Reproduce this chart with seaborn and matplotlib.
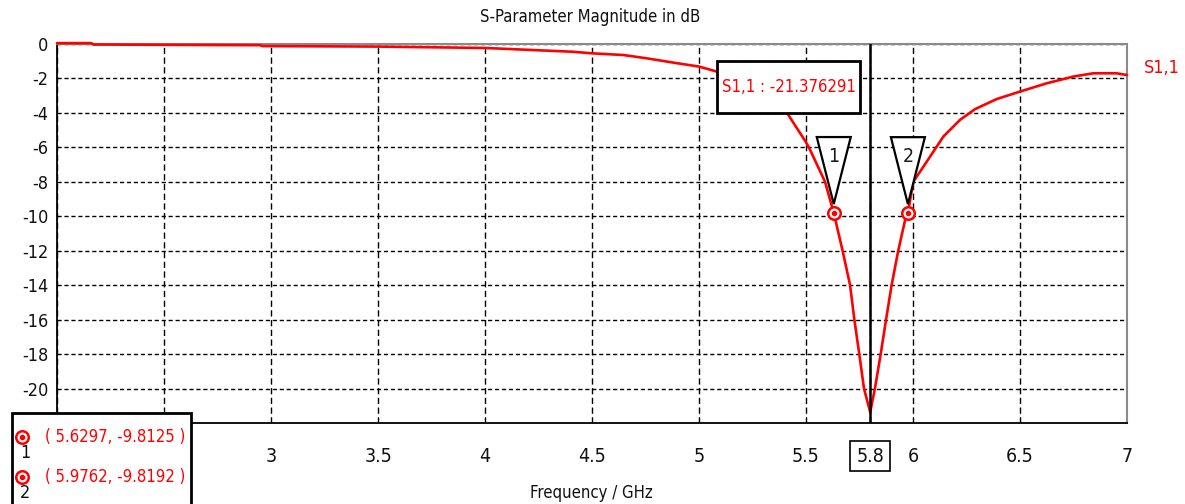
import numpy as np
import pandas as pd
import seaborn as sns
import matplotlib
matplotlib.use("Agg")
import matplotlib.pyplot as plt
import matplotlib.patches as mpatches
import matplotlib.transforms as mtransforms

# S11 trace (GHz, dB)
freq = [2.0, 2.16, 2.17, 2.5, 2.95, 2.96, 3.5, 4.0, 4.41, 4.5, 4.647, 4.755,
        4.88, 5.0, 5.083, 5.2, 5.3, 5.36, 5.417, 5.5, 5.519, 5.589, 5.6297,
        5.671, 5.706, 5.726, 5.749, 5.771, 5.8, 5.822, 5.849, 5.874, 5.9,
        5.931, 5.967, 5.9762, 6.001, 6.07, 6.142, 6.22, 6.29, 6.39, 6.5,
        6.625, 6.749, 6.842, 6.95, 7.0]
s11 = [0.05, 0.05, -0.03, -0.05, -0.07, -0.12, -0.15, -0.23, -0.45, -0.54,
       -0.64, -0.83, -1.08, -1.31, -1.6, -2.2, -2.9, -3.4, -4.11, -5.7, -6.14,
       -8.0, -9.8125, -12.0, -14.0, -16.0, -18.0, -20.0, -21.376291, -20.0,
       -18.0, -16.0, -14.0, -12.0, -10.0, -9.8192, -8.0, -6.72, -5.37, -4.4,
       -3.78, -3.2, -2.76, -2.28, -1.89, -1.7, -1.7, -1.8]

# markers
marker_ids = ["1", "2"]
marker_x = [5.6297, 5.9762]
marker_y = [-9.8125, -9.8192]

# cursor
cursor_x = 5.8
cursor_val = -21.376291

xticks = [2, 2.5, 3, 3.5, 4, 4.5, 5, 5.5, 5.8, 6, 6.5, 7]
xticklabels = ["2", "2.5", "3", "3.5", "4", "4.5", "5", "5.5", "5.8", "6", "6.5", "7"]
yticks = [0, -2, -4, -6, -8, -10, -12, -14, -16, -18, -20]
yticklabels = ["0", "-2", "-4", "-6", "-8", "-10", "-12", "-14", "-16", "-18", "-20"]

sns.set_style("white")
plt.rcParams["font.family"] = ["DejaVu Sans"]
plt.rcParams["font.stretch"] = "condensed"

INK = "#111111"
RED = "#ff0000"
W, H = 1185, 504
fig = plt.figure(figsize=(W / 100, H / 100), dpi=100)
ax = fig.add_axes([57 / W, 1 - 423 / H, (1127 - 57) / W, (423 - 44) / H])

df = pd.DataFrame({"Frequency": freq, "S11": s11})
sns.lineplot(data=df, x="Frequency", y="S11", color=RED, lw=1.9, ax=ax,
             zorder=4, clip_on=False)

ax.set_xlim(2, 7)
ax.set_ylim(-22, 0)
ax.set_xticks(xticks)
ax.set_xticklabels(xticklabels)
ax.set_yticks(yticks)
ax.set_yticklabels(yticklabels)
ax.set_xlabel("")
ax.set_ylabel("")

ax.xaxis.grid(True, color="black", linestyle=(0, (4.5, 2.5)), lw=1.0)
ax.yaxis.grid(True, color="black", linestyle=(0, (3, 2)), lw=1.0)
ax.tick_params(axis="x", direction="out", length=5, width=1, color="black",
               pad=12, labelsize=14, labelcolor=INK)
ax.tick_params(axis="y", direction="out", length=4, width=1, color="black",
               pad=2, labelsize=13, labelcolor=INK)

for side in ["left", "bottom"]:
    ax.spines[side].set_color("black")
    ax.spines[side].set_linewidth(1.3)
for side in ["top", "right"]:
    ax.spines[side].set_color("#8a8a8a")
    ax.spines[side].set_linewidth(1.5)

# boxed cursor tick label
for lab in ax.get_xticklabels():
    if lab.get_text() == "5.8":
        lab.set_bbox(dict(boxstyle="square,pad=0.3", fc="white", ec="black", lw=1.2))

# cursor line
ax.axvline(cursor_x, color="black", lw=1.8, zorder=5)

# markers with flag triangles
for mid, mx, my in zip(marker_ids, marker_x, marker_y):
    tr = mtransforms.Affine2D() + mtransforms.ScaledTranslation(mx, my, ax.transData)
    tri = mpatches.Polygon([(-17, 76), (17, 76), (0, 9)], closed=True, fc="white",
                           ec="black", lw=1.6, transform=tr, zorder=6)
    ax.add_patch(tri)
    ax.text(0, 57, mid, transform=tr, ha="center", va="center", fontsize=14,
            color="#1a1a2a", zorder=7)
    ax.plot([mx], [my], marker="o", ms=9, mfc="white", mec=RED, mew=1.8,
            zorder=8, clip_on=False)
    ax.plot([mx], [my], marker="o", ms=3, mfc=RED, mec=RED, zorder=9)

# cursor value box
ax.add_patch(mpatches.Rectangle((0.6168, 0.818), 0.1337, 0.137, transform=ax.transAxes,
                                fc="white", ec="black", lw=2, zorder=10))
ax.text(0.6836, 0.8865, f"S1,1 : {cursor_val:.6f}", transform=ax.transAxes,
        ha="center", va="center", color=RED, fontsize=12, zorder=11)

# trace name
fig.text(1144 / W, 1 - 68 / H, "S1,1", color=RED, fontsize=13,
         ha="left", va="center")

# title and axis label
fig.text(590 / W, 1 - 17 / H, "S-Parameter Magnitude in dB", fontsize=12,
         ha="center", va="center", color=INK)
fig.text(591 / W, 1 - 493 / H, "Frequency / GHz", fontsize=12,
         ha="center", va="center", color=INK)

# marker table
fig.add_artist(mpatches.Rectangle((12 / W, -0.05), (191 - 12) / W, 0.05 + 1 - 413 / H,
                                  transform=fig.transFigure, fc="white", ec="black",
                                  lw=2, zorder=20))
rows_y = [437, 477]
for mid, mx, my, ry in zip(marker_ids, marker_x, marker_y, rows_y):
    fig.add_artist(plt.Line2D([22 / W], [1 - ry / H], marker="o", ms=9, mfc="white",
                              mec=RED, mew=1.8, transform=fig.transFigure, zorder=21))
    fig.add_artist(plt.Line2D([22 / W], [1 - ry / H], marker="o", ms=3, mfc=RED,
                              mec=RED, transform=fig.transFigure, zorder=22))
    fig.text(25 / W, 1 - (ry + 16) / H, mid, fontsize=13, ha="center", va="center",
             color=INK, zorder=22)
    fig.text(45 / W, 1 - ry / H, f"( {mx:.4f}, {my:.4f} )", fontsize=12,
             ha="left", va="center", color=RED, zorder=22)

fig.savefig("out.png", dpi=100)
